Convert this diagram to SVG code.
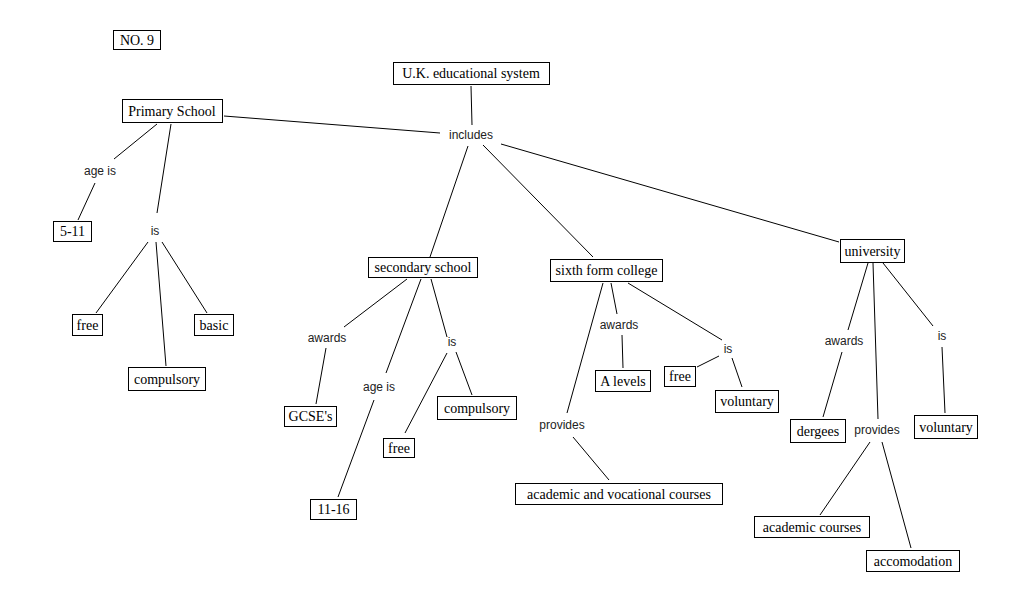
<svg xmlns="http://www.w3.org/2000/svg" width="1021" height="612" viewBox="0 0 1021 612">
<style>
.b rect{fill:#fff;stroke:#000;stroke-width:1}
.b text{font-family:"Liberation Serif",serif;font-size:14px;fill:#000;text-anchor:middle;dominant-baseline:central}
.l text{font-family:"Liberation Sans",sans-serif;font-size:12px;fill:#222;text-anchor:middle;dominant-baseline:central}
#connectors line{stroke:#000;stroke-width:1}
</style>
<rect width="1021" height="612" fill="#fff"/>
<g id="connectors">
<line x1="157" y1="124" x2="114" y2="159"/>
<line x1="95" y1="183" x2="78" y2="220"/>
<line x1="171" y1="124" x2="157" y2="213"/>
<line x1="148" y1="242" x2="96" y2="313"/>
<line x1="156" y1="242" x2="166" y2="366"/>
<line x1="162" y1="242" x2="207" y2="313"/>
<line x1="224" y1="116" x2="440" y2="133"/>
<line x1="471" y1="86" x2="472" y2="125"/>
<line x1="468" y1="146" x2="430" y2="257"/>
<line x1="483" y1="145" x2="593" y2="257"/>
<line x1="501" y1="144" x2="839" y2="242"/>
<line x1="407" y1="279" x2="344" y2="327"/>
<line x1="326" y1="348" x2="316" y2="404"/>
<line x1="421" y1="279" x2="386" y2="373"/>
<line x1="374" y1="400" x2="338" y2="497"/>
<line x1="431" y1="279" x2="447" y2="337"/>
<line x1="447" y1="353" x2="405" y2="433"/>
<line x1="456" y1="352" x2="472" y2="395"/>
<line x1="611" y1="283" x2="617" y2="314"/>
<line x1="622" y1="335" x2="623" y2="368"/>
<line x1="628" y1="283" x2="722" y2="340"/>
<line x1="719" y1="356" x2="697" y2="367"/>
<line x1="732" y1="358" x2="742" y2="387"/>
<line x1="603" y1="283" x2="567" y2="413"/>
<line x1="573" y1="437" x2="609" y2="480"/>
<line x1="868" y1="263" x2="848" y2="330"/>
<line x1="842" y1="352" x2="823" y2="417"/>
<line x1="873" y1="263" x2="878" y2="419"/>
<line x1="870" y1="442" x2="820" y2="515"/>
<line x1="882" y1="442" x2="911" y2="548"/>
<line x1="883" y1="263" x2="933" y2="326"/>
<line x1="942" y1="347" x2="945" y2="413"/>
</g>
<g id="no9" class="b"><rect x="113.5" y="30.5" width="47" height="19"/><text x="137" y="40">NO. 9</text></g>
<g id="uk" class="b"><rect x="393.5" y="62.5" width="156" height="22"/><text x="471" y="73.5">U.K. educational system</text></g>
<g id="primary" class="b"><rect x="122.5" y="99.5" width="100" height="23"/><text x="172" y="111">Primary School</text></g>
<g id="includes" class="l"><text x="471" y="135">includes</text></g>
<g id="p-ageis" class="l"><text x="100" y="171">age is</text></g>
<g id="p-5-11" class="b"><rect x="53.5" y="221.5" width="38" height="20"/><text x="72.5" y="231.5">5-11</text></g>
<g id="p-is" class="l"><text x="155" y="231">is</text></g>
<g id="p-free" class="b"><rect x="72.5" y="314.5" width="30" height="21"/><text x="87.5" y="325">free</text></g>
<g id="p-basic" class="b"><rect x="194.5" y="314.5" width="39" height="21"/><text x="214" y="325">basic</text></g>
<g id="p-compulsory" class="b"><rect x="128.5" y="367.5" width="77" height="23"/><text x="167" y="379">compulsory</text></g>
<g id="secondary" class="b"><rect x="368.5" y="257.5" width="109" height="20"/><text x="423" y="267.5">secondary school</text></g>
<g id="s-awards" class="l"><text x="327" y="338">awards</text></g>
<g id="s-gcse" class="b"><rect x="284.5" y="406.5" width="52" height="20"/><text x="310.5" y="416.5">GCSE's</text></g>
<g id="s-ageis" class="l"><text x="379" y="387">age is</text></g>
<g id="s-11-16" class="b"><rect x="310.5" y="499.5" width="46" height="20"/><text x="333.5" y="509.5">11-16</text></g>
<g id="s-is" class="l"><text x="452" y="342">is</text></g>
<g id="s-free" class="b"><rect x="383.5" y="438.5" width="31" height="19"/><text x="399" y="448">free</text></g>
<g id="s-compulsory" class="b"><rect x="437.5" y="396.5" width="79" height="23"/><text x="477" y="408">compulsory</text></g>
<g id="sixth" class="b"><rect x="550.5" y="259.5" width="112" height="22"/><text x="606.5" y="270.5">sixth form college</text></g>
<g id="f-awards" class="l"><text x="619" y="325">awards</text></g>
<g id="f-alevels" class="b"><rect x="595.5" y="370.5" width="55" height="21"/><text x="623" y="381">A levels</text></g>
<g id="f-is" class="l"><text x="728" y="349">is</text></g>
<g id="f-free" class="b"><rect x="664.5" y="366.5" width="31" height="20"/><text x="680" y="376.5">free</text></g>
<g id="f-voluntary" class="b"><rect x="715.5" y="390.5" width="63" height="22"/><text x="747" y="401.5">voluntary</text></g>
<g id="f-provides" class="l"><text x="562" y="425">provides</text></g>
<g id="f-avc" class="b"><rect x="515.5" y="483.5" width="207" height="21"/><text x="619" y="494">academic and vocational courses</text></g>
<g id="university" class="b"><rect x="840.5" y="239.5" width="64" height="23"/><text x="872.5" y="251">university</text></g>
<g id="u-awards" class="l"><text x="844" y="341">awards</text></g>
<g id="u-dergees" class="b"><rect x="790.5" y="419.5" width="55" height="23"/><text x="818" y="431">dergees</text></g>
<g id="u-provides" class="l"><text x="877" y="430">provides</text></g>
<g id="u-academic" class="b"><rect x="754.5" y="516.5" width="115" height="21"/><text x="812" y="527">academic courses</text></g>
<g id="u-accomodation" class="b"><rect x="866.5" y="550.5" width="93" height="21"/><text x="913" y="561">accomodation</text></g>
<g id="u-is" class="l"><text x="942" y="336">is</text></g>
<g id="u-voluntary" class="b"><rect x="914.5" y="415.5" width="63" height="23"/><text x="946" y="427">voluntary</text></g>
</svg>
